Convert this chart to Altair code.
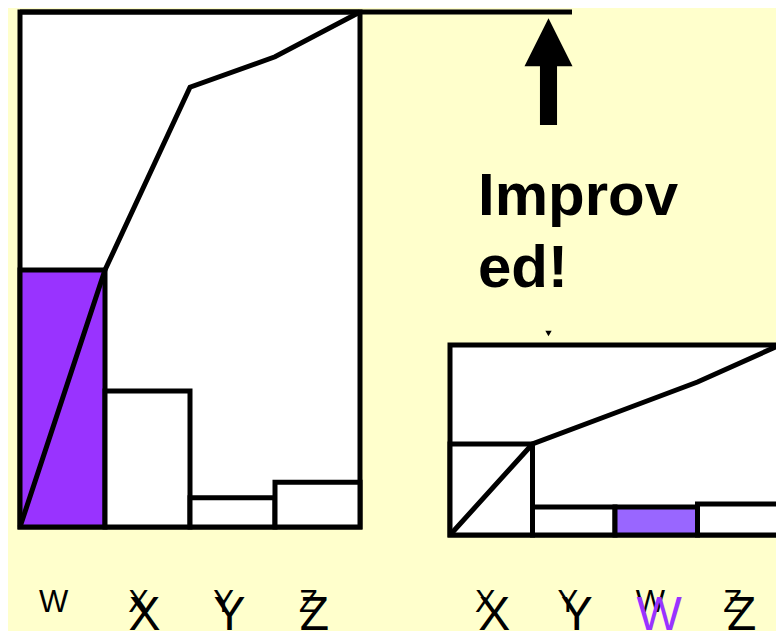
import altair as alt
import pandas as pd

# ---- data ----
left_cats = ["W", "X", "Y", "Z"]
left_bars = [49.9, 26.4, 5.7, 8.7]
left_cum = [0, 49.9, 85.4, 91.3, 100]

right_cats = ["X", "Y", "W", "Z"]
right_bars = [47.9, 14.7, 14.7, 16.3]
right_cum = [0, 47.9, 64.2, 80.5, 100]

highlight = "W"
note_text = ["Improv", "ed!"]

# ---- styling / layout ----
BG = "#FFFFCC"
PURPLE_L = "#9933FF"
PURPLE_R = "#9966FF"
FONT = "Liberation Sans"
W, H = 768, 623
LX, LY = [12, 352], [519, 4]
RX, RY = [442, 772], [527, 337]
SW = 5


def xs(rng, n):
    return alt.Scale(domain=[0, n], range=rng, nice=False, zero=False)


def ys(rng):
    return alt.Scale(domain=[0, 100], range=rng, nice=False, zero=False)


def bars_df(cats, vals):
    n = len(cats)
    return pd.DataFrame({
        "cat": cats,
        "i": list(range(n)),
        "i2": [k + 1 for k in range(n)],
        "m": [k + 0.5 for k in range(n)],
        "v": vals,
        "hl": [c == highlight for c in cats],
    })


def cum_df(vals):
    return pd.DataFrame({"e": list(range(len(vals))), "c": vals})


def pareto(cats, vals, cum, xr, yr, purple):
    n = len(cats)
    bd = bars_df(cats, vals)
    frame = alt.Chart(alt.Data(values=[{}])).mark_rect(
        fill="white", stroke="black", strokeWidth=SW
    ).encode(
        x=alt.XDatum(0, scale=xs(xr, n), axis=None),
        x2=alt.X2Datum(n),
        y=alt.YDatum(0, scale=ys(yr), axis=None),
        y2=alt.Y2Datum(100),
    )
    bars = alt.Chart(bd).mark_rect(stroke="black", strokeWidth=SW).encode(
        x=alt.X("i:Q", scale=xs(xr, n), axis=None),
        x2="i2:Q",
        y=alt.Y("v:Q", scale=ys(yr), axis=None),
        y2=alt.Y2Datum(0),
        fill=alt.condition("datum.hl", alt.value(purple), alt.value("white")),
    )
    line = alt.Chart(cum_df(cum)).mark_line(color="black", strokeWidth=SW).encode(
        x=alt.X("e:Q", scale=xs(xr, n), axis=None),
        y=alt.Y("c:Q", scale=ys(yr), axis=None),
    )
    return frame, bars, line, bd


lf, lb, ll, ldf = pareto(left_cats, left_bars, left_cum, LX, LY, PURPLE_L)
rf, rb, rl, rdf = pareto(right_cats, right_bars, right_cum, RX, RY, PURPLE_R)

top_rule = alt.Chart(alt.Data(values=[{}])).mark_rule(
    color="black", strokeWidth=SW
).encode(
    x=alt.XDatum(0, scale=xs(LX, 4), axis=None),
    x2=alt.value(564),
    y=alt.YDatum(100, scale=ys(LY), axis=None),
)

# labels: small and large overlapping labels
small_l = alt.Chart(ldf).mark_text(
    font=FONT, fontSize=31, baseline="alphabetic", align="center", dx=-9, color="black"
).encode(
    x=alt.X("m:Q", scale=xs(LX, 4), axis=None),
    y=alt.value(604),
    text="cat:N",
)
big_l = alt.Chart(ldf).transform_filter("!datum.hl").mark_text(
    font=FONT, fontSize=48, baseline="alphabetic", align="center", dx=-3, color="black"
).encode(
    x=alt.X("m:Q", scale=xs(LX, 4), axis=None),
    y=alt.value(622),
    text="cat:N",
)
small_r = alt.Chart(rdf).mark_text(
    font=FONT, fontSize=31, baseline="alphabetic", align="center", dx=-6, color="black"
).encode(
    x=alt.X("m:Q", scale=xs(RX, 4), axis=None),
    y=alt.value(604),
    text="cat:N",
)
big_r = alt.Chart(rdf).mark_text(
    font=FONT, fontSize=48, baseline="alphabetic", align="center", dx=3
).encode(
    x=alt.X("m:Q", scale=xs(RX, 4), axis=None),
    y=alt.value(622),
    text="cat:N",
    color=alt.condition("datum.hl", alt.value(PURPLE_L), alt.value("black")),
)

arrow_path = "M0,-1 L0.45,-0.1 L0.16,-0.1 L0.16,1 L-0.16,1 L-0.16,-0.1 L-0.45,-0.1 Z"
arrow = alt.Chart(alt.Data(values=[{}])).mark_point(
    shape=arrow_path, filled=True, fill="black", strokeWidth=0, opacity=1, size=11385
).encode(x=alt.value(540.5), y=alt.value(63.7))

marker = alt.Chart(alt.Data(values=[{}])).mark_point(
    shape="triangle-down", filled=True, fill="black", strokeWidth=0, opacity=1, size=40
).encode(x=alt.value(540.5), y=alt.value(325.5))

note = alt.Chart(alt.Data(values=[{}])).mark_text(
    text=note_text, font=FONT, fontSize=60, fontWeight="bold", align="left",
    baseline="alphabetic", lineHeight=72, color="black"
).encode(x=alt.value(470), y=alt.value(207))

chart = alt.layer(
    lf, lb, ll, top_rule,
    rf, rb, rl,
    small_l, big_l, small_r, big_r,
    arrow, marker, note,
).resolve_scale(
    x="independent", y="independent"
).properties(
    width=W, height=H, background=BG, padding=0,
    autosize=alt.AutoSizeParams(type="none"),
).configure_view(stroke=None)

chart.save("out.html", embed_options={"renderer": "svg", "actions": False})
